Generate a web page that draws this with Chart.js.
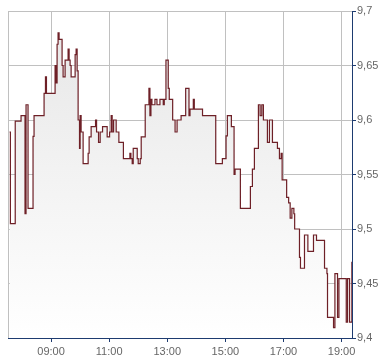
<!DOCTYPE html>
<html lang="de">
<head>
  <meta charset="UTF-8" />
  <title>Intraday Kurs</title>
  <script src="https://cdn.jsdelivr.net/npm/chart.js"></script>
  <style>
    html, body { margin: 0; padding: 0; background: #fff; }
    canvas { display: block; }
  </style>
</head>
<body>
  <canvas id="kurs" width="390" height="364"></canvas>

  <script>
    // Zeitpunkte (Stunden, dezimal) an denen sich der Kurs aendert
    const zeiten = [
      7.57, 7.60, 7.766, 7.966, 8.103, 8.138, 8.207, 8.379, 8.414, 8.759,
      8.807, 8.841, 9.138, 9.172, 9.207, 9.241, 9.276, 9.379, 9.414, 9.483,
      9.586, 9.621, 9.655, 9.690, 9.828, 9.862, 9.897, 9.931, 9.979, 10.0,
      10.034, 10.103, 10.276, 10.310, 10.379, 10.531, 10.566, 10.634, 10.690, 10.772,
      10.931, 11.014, 11.069, 11.103, 11.152, 11.241, 11.334, 11.490, 11.714, 11.748,
      11.793, 11.828, 11.966, 12.0, 12.069, 12.103, 12.241, 12.369, 12.403, 12.438,
      12.472, 12.576, 12.645, 12.748, 12.862, 12.897, 12.955, 13.034, 13.069, 13.186,
      13.269, 13.338, 13.476, 13.634, 13.748, 13.783, 13.897, 13.931, 14.214, 14.669,
      14.897, 15.024, 15.069, 15.207, 15.300, 15.334, 15.517, 15.862, 15.931, 16.0,
      16.138, 16.197, 16.255, 16.310, 16.448, 16.517, 16.621, 16.793, 16.862, 16.921,
      16.955, 17.110, 17.179, 17.231, 17.290, 17.359, 17.386, 17.552, 17.586, 17.724,
      17.841, 18.034, 18.138, 18.414, 18.497, 18.517, 18.724, 18.772, 18.862, 18.910,
      19.162, 19.207, 19.276, 19.355
    ];

    const kurse = [
      9.589, 9.505, 9.599, 9.604, 9.514, 9.614, 9.519, 9.585, 9.604, 9.6245,
      9.6395, 9.6245, 9.65, 9.634, 9.6695, 9.68, 9.674, 9.65, 9.6395, 9.655,
      9.665, 9.655, 9.65, 9.6395, 9.66, 9.665, 9.645, 9.6, 9.574, 9.604,
      9.589, 9.56, 9.5695, 9.5845, 9.594, 9.6, 9.589, 9.5795, 9.589, 9.594,
      9.5845, 9.589, 9.604, 9.589, 9.6, 9.589, 9.5795, 9.5645, 9.5695, 9.5645,
      9.56, 9.574, 9.5645, 9.56, 9.5645, 9.5845, 9.614, 9.629, 9.604, 9.619,
      9.614, 9.619, 9.614, 9.619, 9.614, 9.619, 9.655, 9.629, 9.619, 9.6,
      9.589, 9.6, 9.604, 9.629, 9.604, 9.61, 9.619, 9.61, 9.604, 9.56,
      9.5645, 9.5855, 9.604, 9.594, 9.55, 9.555, 9.519, 9.539, 9.555, 9.574,
      9.614, 9.604, 9.614, 9.6, 9.5795, 9.6, 9.5795, 9.574, 9.5645, 9.5695,
      9.545, 9.529, 9.524, 9.51, 9.519, 9.514, 9.5, 9.474, 9.464, 9.4945,
      9.4795, 9.4945, 9.4896, 9.464, 9.459, 9.419, 9.4095, 9.459, 9.419, 9.4545,
      9.4145, 9.4545, 9.4145, 9.47
    ];

    const xTicks = [9, 11, 13, 15, 17, 19];
    const yTicks = [9.4, 9.45, 9.5, 9.55, 9.6, 9.65, 9.7];

    const xMin = 7.517;
    const xMax = 19.36;

    const achsenBlau = '#1d3b70';
    const gitter = '#c0c0c0';

    const punkte = zeiten.map((t, i) => ({ x: t, y: kurse[i] }));

    function verlauf(context) {
      const area = context.chart.chartArea;
      if (!area) return '#eeeeee';
      const g = context.chart.ctx.createLinearGradient(0, area.top, 0, area.bottom);
      g.addColorStop(0, '#e6e6e6');
      g.addColorStop(1, '#ffffff');
      return g;
    }

    new Chart(document.getElementById('kurs'), {
      type: 'line',
      data: {
        datasets: [{
          data: punkte,
          stepped: true,
          borderColor: '#6e2027',
          borderWidth: 1.2,
          pointRadius: 0,
          fill: 'start',
          backgroundColor: verlauf
        }]
      },
      options: {
        responsive: false,
        animation: false,
        layout: { padding: { left: 8, top: 11, right: 0, bottom: 0 } },
        plugins: {
          legend: { display: false },
          tooltip: { enabled: false }
        },
        scales: {
          x: {
            type: 'linear',
            min: xMin,
            max: xMax,
            afterBuildTicks: (scale) => {
              scale.ticks = [xMin].concat(xTicks).map(v => ({ value: v }));
            },
            afterFit: (scale) => { scale.height = 26; },
            grid: {
              color: gitter,
              tickLength: 4,
              tickColor: (ctx) => ctx.index === 0 ? 'rgba(0,0,0,0)' : achsenBlau
            },
            border: { color: achsenBlau, width: 1 },
            ticks: {
              autoSkip: false,
              maxRotation: 0,
              padding: 3,
              color: '#666',
              font: { family: '"Liberation Sans", Arial, sans-serif', size: 11 },
              callback: (v) => {
                if (v < 9) return '';
                return String(Math.round(v)).padStart(2, '0') + ':00';
              }
            }
          },
          y: {
            position: 'right',
            min: 9.4,
            max: 9.7,
            afterBuildTicks: (scale) => {
              scale.ticks = yTicks.map(v => ({ value: v }));
            },
            afterFit: (scale) => { scale.width = 38; },
            grid: {
              color: gitter,
              tickLength: 4,
              tickColor: achsenBlau
            },
            border: { color: achsenBlau, width: 1 },
            ticks: {
              padding: 1,
              color: '#666',
              font: { family: '"Liberation Sans", Arial, sans-serif', size: 11 },
              callback: (v) => String(Number(v.toFixed(2))).replace('.', ',')
            }
          }
        }
      }
    });
  </script>
</body>
</html>
